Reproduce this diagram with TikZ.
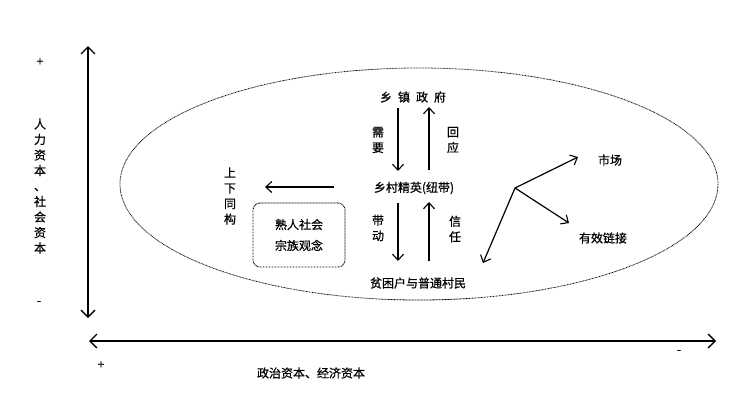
\documentclass[tikz,border=0pt]{standalone}
\usepackage{fontspec}
\newfontfamily\cjk[FakeBold=0.6]{Noto Sans CJK SC}
\usetikzlibrary{arrows.meta}
\begin{document}
\begin{tikzpicture}[x=1pt,y=-1pt,
  lbl/.style={font=\cjk\fontsize{12}{14}\selectfont, inner sep=0pt},
  vlbl/.style={lbl, align=center, font=\cjk\fontsize{12}{15.5}\selectfont},
  axis/.style={line width=1.8pt, {Straight Barb[length=7pt,width=14pt,line width=1.3pt]}-{Straight Barb[length=7pt,width=14pt,line width=1.3pt]}},
  flow/.style={line width=1.2pt, -{Straight Barb[length=6pt,width=11pt,line width=1.1pt]}}]
\useasboundingbox (0,0) rectangle (754,400);
% axes
\coordinate (vtop) at (88,46);
\coordinate (vbot) at (88,318);
\draw[axis] (vtop) -- (vbot);
\coordinate (hl) at (89,341);
\coordinate (hr) at (716,341);
\draw[axis] (hl) -- (hr);
\node[lbl] (vplus) at (40,62) {+};
\node[lbl] (vminus) at (39,303) {-};
\node[vlbl] (vtext) at (40,186) {人\\力\\资\\本\\、\\社\\会\\资\\本};
\node[lbl] (hplus) at (101,365) {+};
\node[lbl] (hminus) at (679,352) {-};
\node[lbl] (htext) at (311,373) {政治资本、经济资本};
% ellipse
\draw[line width=0.8pt, dash pattern=on 0.8pt off 0.7pt] (419,184) ellipse [x radius=299, y radius=116];
% central nodes
\node[lbl] (gov) at (413,97) {乡\hspace{0.5em}镇\hspace{0.5em}政\hspace{0.5em}府};
\node[lbl] (elite) at (414,188) {乡村精英(纽带)};
\node[lbl] (poor) at (418,283) {贫困户与普通村民};
\coordinate (a1s) at (398,108); \coordinate (a1e) at (398,171);
\coordinate (a2s) at (429,170); \coordinate (a2e) at (429,107);
\draw[flow] (a1s) -- (a1e);
\draw[flow] (a2s) -- (a2e);
\node[vlbl] (need) at (378,140) {需\\要};
\node[vlbl] (resp) at (453,140) {回\\应};
\coordinate (b1s) at (398,203); \coordinate (b1e) at (398,261);
\coordinate (b2s) at (429,261); \coordinate (b2e) at (429,202);
\draw[flow] (b1s) -- (b1e);
\draw[flow] (b2s) -- (b2e);
\node[vlbl] (lead) at (378,228) {带\\动};
\node[vlbl] (trust) at (455,229) {信\\任};
% left
\coordinate (ls) at (334,187); \coordinate (le) at (265,187);
\draw[flow] (ls) -- (le);
\node[vlbl] (iso) at (230,196) {上\\下\\同\\构};
\node[draw, rounded corners=7pt, dash pattern=on 0.8pt off 0.7pt, line width=0.9pt,
  minimum width=92pt, minimum height=64pt, align=center,
  font=\cjk\fontsize{12}{21}\selectfont] (box) at (299,235) {熟人社会\\宗族观念};
% right branch
\coordinate (br) at (515,188);
\coordinate (mkt) at (578,157);
\coordinate (link) at (569,223);
\coordinate (down) at (483,263);
\draw[flow] (br) -- (mkt);
\draw[flow] (br) -- (link);
\draw[flow] (br) -- (down);
\node[lbl] (market) at (610,160) {市场};
\node[lbl] (eff) at (603,238) {有效链接};
\end{tikzpicture}
\end{document}
